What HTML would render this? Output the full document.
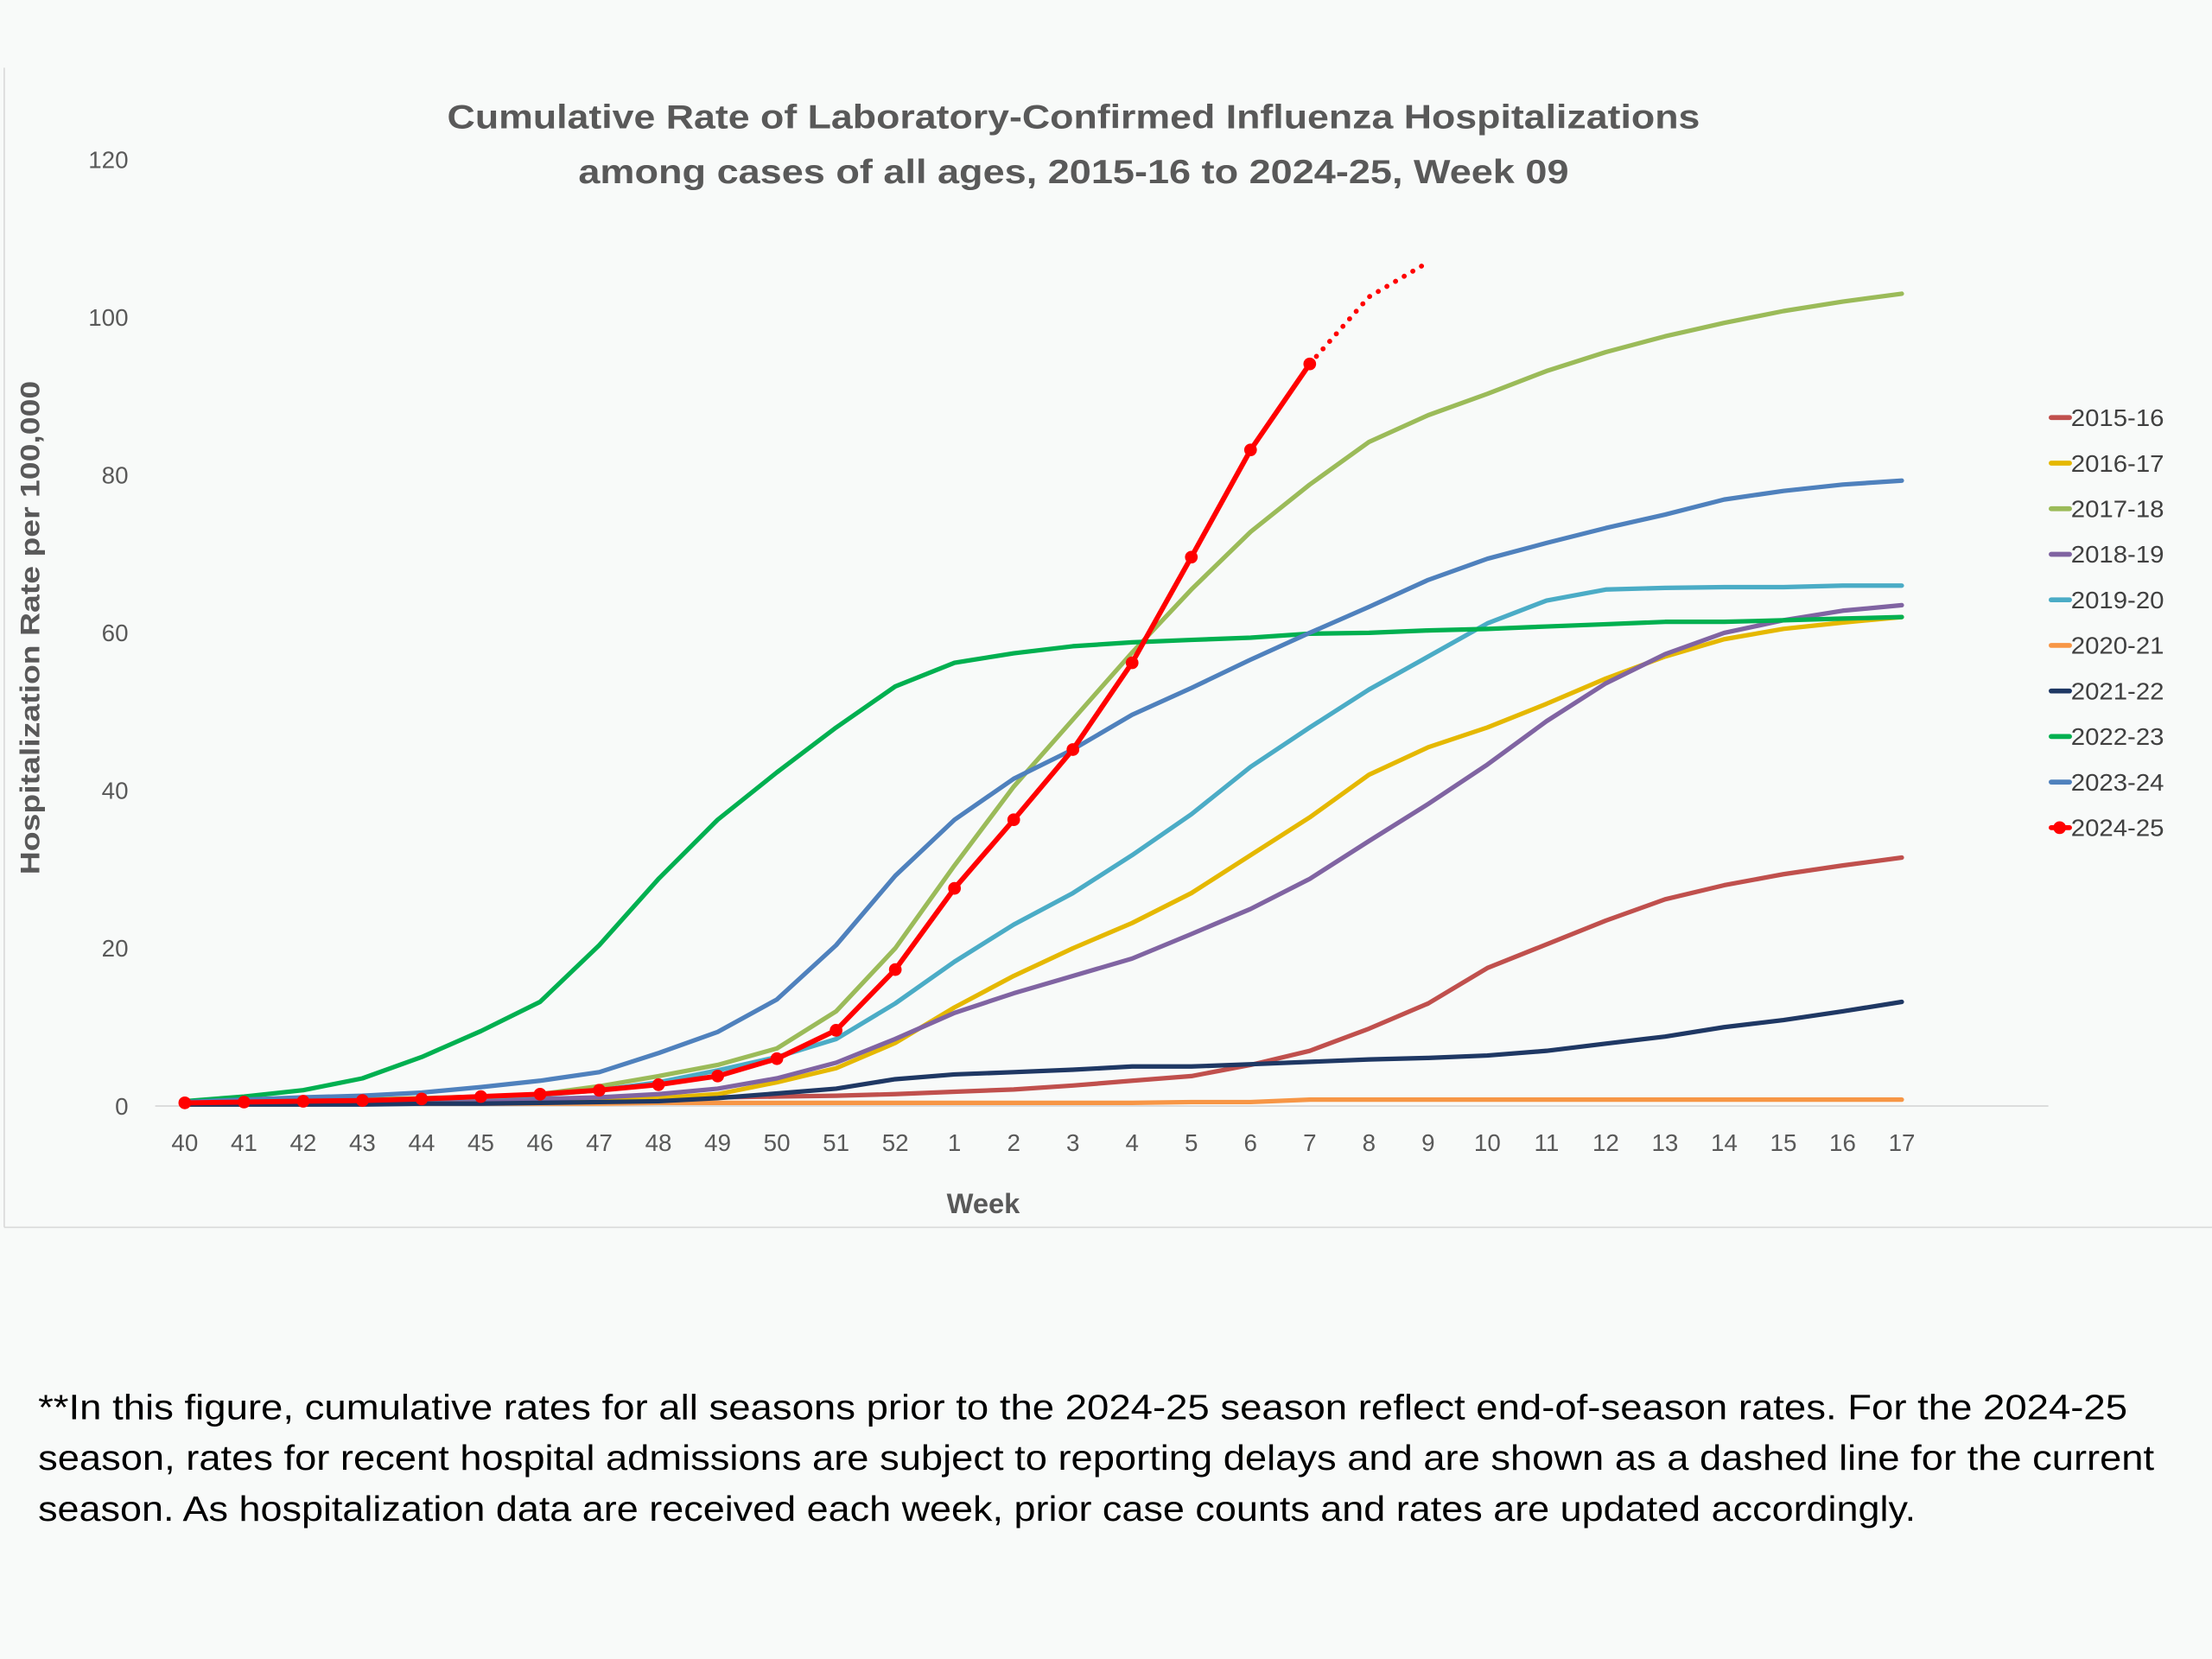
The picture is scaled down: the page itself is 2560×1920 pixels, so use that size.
<!DOCTYPE html>
<html><head><meta charset="utf-8"><style>
html,body{margin:0;padding:0;background:#f8faf9;}
svg{display:block;}
text{font-family:"Liberation Sans",sans-serif;}
</style></head><body>
<svg id="s" width="2560" height="1920" viewBox="0 0 1568 1176" xmlns="http://www.w3.org/2000/svg">
<rect x="0" y="0" width="1568" height="1176" fill="#f8faf9"/>
<line x1="3" y1="48" x2="3" y2="870" stroke="#d9d9d9" stroke-width="1"/>
<line x1="3" y1="870" x2="1568" y2="870" stroke="#d9d9d9" stroke-width="1"/>
<text x="317" y="91" textLength="888" lengthAdjust="spacingAndGlyphs" font-size="24" font-weight="bold" fill="#595959">Cumulative Rate of Laboratory-Confirmed Influenza Hospitalizations</text>
<text x="410" y="130" textLength="702" lengthAdjust="spacingAndGlyphs" font-size="24" font-weight="bold" fill="#595959">among cases of all ages, 2015-16 to 2024-25, Week 09</text>
<text transform="translate(28,620) rotate(-90)" textLength="350" lengthAdjust="spacingAndGlyphs" font-size="19" font-weight="bold" fill="#595959">Hospitalization Rate per 100,000</text>
<text x="697" y="860" text-anchor="middle" font-size="20" font-weight="bold" fill="#595959">Week</text>
<line x1="110" y1="784" x2="1452" y2="784" stroke="#d9d9d9" stroke-width="1"/>
<g id="g"></g>
<text x="27" y="1006" textLength="1481" lengthAdjust="spacingAndGlyphs" font-size="25" fill="#000">**In this figure, cumulative rates for all seasons prior to the 2024-25 season reflect end-of-season rates. For the 2024-25</text>
<text x="27" y="1042" textLength="1500" lengthAdjust="spacingAndGlyphs" font-size="25" fill="#000">season, rates for recent hospital admissions are subject to reporting delays and are shown as a dashed line for the current</text>
<text x="27" y="1078" textLength="1331" lengthAdjust="spacingAndGlyphs" font-size="25" fill="#000">season. As hospitalization data are received each week, prior case counts and rates are updated accordingly.</text>
</svg>
<script>
var g=document.getElementById('g');var h='';
function X(i){return 131+i*41.97;}function Y(v){return 784-v*5.59;}
for(var v=0;v<=120;v+=20){h+='<text x="91" y="'+(Y(v)+6)+'" text-anchor="end" font-size="17" fill="#595959">'+v+'</text>';}
var wk=[];for(var i=40;i<=52;i++)wk.push(i);for(var i=1;i<=17;i++)wk.push(i);
wk.forEach(function(w,i){h+='<text x="'+X(i)+'" y="816" text-anchor="middle" font-size="17" fill="#595959">'+w+'</text>';});
var S=[
['2015-16','#C0504D',[0.3,0.4,0.5,0.5,0.6,0.7,0.8,0.9,1.0,1.1,1.2,1.3,1.5,1.8,2.1,2.6,3.2,3.8,5.2,7,9.8,13,17.5,20.5,23.5,26.2,28,29.4,30.5,31.5]],
['2016-17','#E5B800',[0.3,0.3,0.4,0.4,0.5,0.6,0.7,0.8,1.0,1.5,3,4.8,8,12.5,16.5,20,23.2,27,31.8,36.6,42,45.5,48,51,54.2,57,59.2,60.5,61.3,62]],
['2017-18','#9BBB59',[0.5,0.6,0.7,0.8,1.0,1.2,1.5,2.5,3.8,5.2,7.3,12,20,30.5,40.5,49,57.5,65.5,72.8,78.8,84.2,87.6,90.3,93.2,95.6,97.6,99.3,100.8,102,103]],
['2018-19','#8064A2',[0.3,0.4,0.5,0.6,0.7,0.8,0.9,1.1,1.5,2.2,3.5,5.5,8.5,11.8,14.3,16.5,18.7,21.8,25,28.8,33.6,38.3,43.3,48.8,53.6,57.3,60,61.6,62.8,63.5]],
['2019-20','#4BACC6',[0.4,0.5,0.6,0.7,0.9,1.1,1.4,2,3,4.5,6.2,8.5,13,18.3,23,27,31.8,37,43,48,52.8,57,61.2,64.1,65.5,65.7,65.8,65.8,66,66]],
['2020-21','#F79646',[0.2,0.2,0.2,0.3,0.3,0.3,0.3,0.3,0.4,0.4,0.4,0.4,0.4,0.4,0.4,0.4,0.4,0.5,0.5,0.8,0.8,0.8,0.8,0.8,0.8,0.8,0.8,0.8,0.8,0.8]],
['2021-22','#1F3864',[0.2,0.2,0.2,0.2,0.3,0.3,0.4,0.5,0.6,1,1.6,2.2,3.4,4,4.3,4.6,5,5,5.3,5.6,5.9,6.1,6.4,7,7.9,8.8,10,10.9,12,13.2]],
['2022-23','#00B050',[0.6,1.2,2,3.5,6.2,9.5,13.2,20.4,28.8,36.3,42.3,48,53.2,56.2,57.4,58.3,58.8,59.1,59.4,59.9,60,60.3,60.5,60.8,61.1,61.4,61.4,61.6,61.8,62]],
['2023-24','#4F81BD',[0.5,0.8,1.1,1.3,1.7,2.4,3.2,4.3,6.7,9.4,13.5,20.4,29.2,36.3,41.5,45.2,49.6,53,56.6,60,63.3,66.7,69.4,71.4,73.3,75,76.9,78,78.8,79.3]]
];
function P(d,o){return d.map(function(v,i){return X(i+(o||0)).toFixed(1)+','+Y(v).toFixed(1);}).join(' ');}
S.forEach(function(s){h+='<polyline points="'+P(s[2])+'" fill="none" stroke="'+s[1]+'" stroke-width="3.2" stroke-linejoin="round" stroke-linecap="round"/>';});
var r=[0.4,0.5,0.6,0.7,0.9,1.2,1.5,2,2.7,3.8,6,9.6,17.3,27.6,36.3,45.2,56.2,69.6,83.2,94.1];
h+='<polyline points="'+X(19)+','+Y(94.1)+' '+X(20)+','+Y(102.6)+' '+X(21)+','+Y(107)+'" fill="none" stroke="#FF0000" stroke-width="3.5" stroke-dasharray="0.1 7" stroke-linecap="round"/>';
h+='<polyline points="'+P(r)+'" fill="none" stroke="#FF0000" stroke-width="3.6" stroke-linejoin="round"/>';
r.forEach(function(v,i){h+='<circle cx="'+X(i)+'" cy="'+Y(v)+'" r="4.5" fill="#FF0000"/>';});
var L=S.map(function(s){return [s[0],s[1]];});L.push(['2024-25','#FF0000']);
L.forEach(function(l,i){var y=296+i*32.3;h+='<line x1="1454" y1="'+y+'" x2="1467" y2="'+y+'" stroke="'+l[1]+'" stroke-width="3.5" stroke-linecap="round"/>';
if(i==9)h+='<circle cx="1460" cy="'+y+'" r="4.5" fill="#FF0000"/>';
h+='<text x="1468" y="'+(y+6)+'" textLength="66" lengthAdjust="spacingAndGlyphs" font-size="17" fill="#404040">'+l[0]+'</text>';});
g.innerHTML=h;
</script>
</body></html>
